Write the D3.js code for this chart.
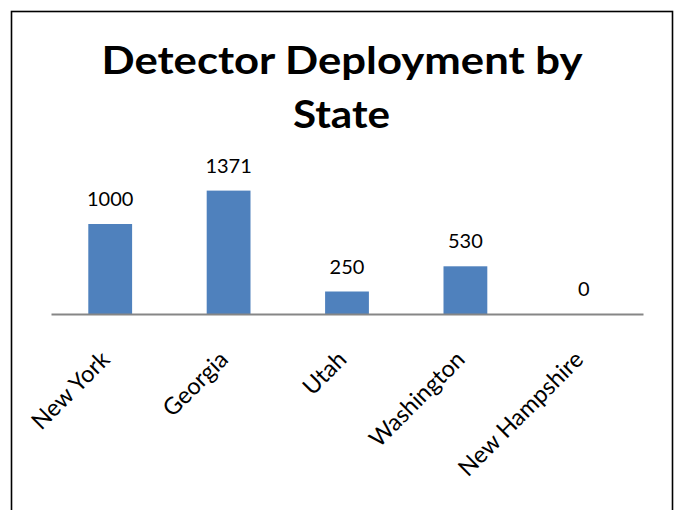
<!DOCTYPE html>
<html>
<head>
<meta charset="utf-8">
<script src="https://cdn.jsdelivr.net/npm/d3@7"></script>
<style>
  html, body { margin: 0; padding: 0; background: #fff; }
  svg { display: block; font-family: Lato, "Open Sans", sans-serif; }
</style>
</head>
<body>
<svg id="chart" width="679" height="510"></svg>
<script>
// Chart data
const states = ["New York", "Georgia", "Utah", "Washington", "New Hampshire"];
const detectors = [1000, 1371, 250, 530, 0];
const titleLines = ["Detector Deployment by", "State"];

const svg = d3.select("#chart");
const baseY = 314;

// Outer frame (bottom edge runs past the visible area)
svg.append("rect")
  .attr("x", 11.5).attr("y", 11.5)
  .attr("width", 661).attr("height", 520)
  .attr("fill", "#fff")
  .attr("stroke", "#000")
  .attr("stroke-width", 1.6);

// Title
const titleG = svg.append("g").attr("font-weight", "bold").attr("font-size", 38).attr("fill", "#000");
titleG.append("text")
  .attr("x", 342).attr("y", 74)
  .attr("text-anchor", "middle")
  .attr("textLength", 481).attr("lengthAdjust", "spacingAndGlyphs")
  .text(titleLines[0]);
titleG.append("text")
  .attr("x", 341.5).attr("y", 128)
  .attr("text-anchor", "middle")
  .attr("textLength", 97).attr("lengthAdjust", "spacingAndGlyphs")
  .text(titleLines[1]);

// Scales
const x = d3.scaleBand().domain(states).range([51, 643]).paddingInner(0.63).paddingOuter(0.315);
const y = d3.scaleLinear().domain([0, 1600]).range([baseY, baseY - 144]);

// Bars
svg.append("g").selectAll("rect")
  .data(states)
  .join("rect")
  .attr("x", d => x(d))
  .attr("y", (d, i) => y(detectors[i]))
  .attr("width", x.bandwidth())
  .attr("height", (d, i) => y(0) - y(detectors[i]))
  .attr("fill", "#4F81BD");

// Value labels
svg.append("g").selectAll("text")
  .data(states)
  .join("text")
  .attr("x", d => x(d) + x.bandwidth() / 2)
  .attr("y", (d, i) => y(detectors[i]) - 18)
  .attr("text-anchor", "middle")
  .attr("font-size", 20)
  .attr("fill", "#000")
  .text((d, i) => detectors[i]);

// Category axis
const axis = svg.append("g")
  .attr("transform", `translate(0,${baseY})`)
  .call(d3.axisBottom(x).tickSize(0).tickPadding(0));
axis.select(".domain").attr("stroke", "#868686").attr("stroke-width", 2.2);
axis.selectAll(".tick text")
  .attr("font-family", "Lato, 'Open Sans', sans-serif")
  .attr("font-size", 23.5)
  .attr("fill", "#000")
  .attr("text-anchor", "end")
  .attr("dy", null)
  .attr("y", null)
  .attr("transform", "translate(1,47) rotate(-45)");
</script>
</body>
</html>
